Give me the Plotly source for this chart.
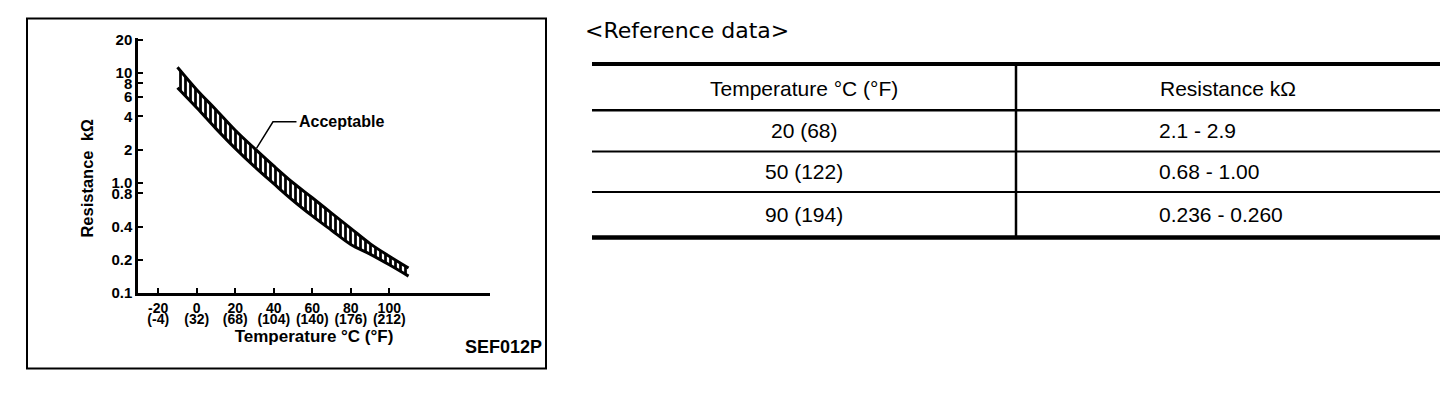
import math
import plotly.graph_objects as go

# ---------------- data ----------------
band_temp_c = [-10, 0, 10, 20, 30, 40, 50, 60, 70, 80, 90, 100, 110]
band_upper_kohm = [11.2, 7.0, 4.6, 3.0, 2.05, 1.42, 1.0, 0.73, 0.53, 0.385, 0.28, 0.215, 0.168]
band_lower_kohm = [7.3, 4.8, 3.1, 2.05, 1.4, 0.98, 0.69, 0.5, 0.37, 0.275, 0.225, 0.18, 0.142]

x_tick_c = [-20, 0, 20, 40, 60, 80, 100]
x_tick_c_labels = ["-20", "0", "20", "40", "60", "80", "100"]
x_tick_f_labels = ["(-4)", "(32)", "(68)", "(104)", "(140)", "(176)", "(212)"]

y_tick_vals = [0.1, 0.2, 0.4, 0.8, 1.0, 2, 4, 6, 8, 10, 20]
y_tick_labels = ["0.1", "0.2", "0.4", "0.8", "1.0", "2", "4", "6", "8", "10", "20"]

acceptable_label = "Acceptable"
acceptable_leader_x = [31.1, 39.6, 51.8]
acceptable_leader_y = [2.06, 3.58, 3.58]

table_title = "<Reference data>"
table_header = ["Temperature °C (°F)", "Resistance kΩ"]
table_temps = ["20 (68)", "50 (122)", "90 (194)"]
table_resist = ["2.1 - 2.9", "0.68 - 1.00", "0.236 - 0.260"]

figure_code = "SEF012P"

# ---------------- layout helpers ----------------
W, H = 1456, 418


def px(x):
    return x / W


def py(y):
    return 1 - y / H


CHART_FONT = "Liberation Sans, Arial, sans-serif"

fig = go.Figure()

# band: upper edge then lower edge filled with vertical hatching
fig.add_trace(go.Scatter(
    x=band_temp_c, y=band_upper_kohm, mode="lines",
    line=dict(color="black", width=3, shape="spline"),
    showlegend=False, hoverinfo="skip"))
fig.add_trace(go.Scatter(
    x=band_temp_c, y=band_lower_kohm, mode="lines",
    line=dict(color="black", width=3, shape="spline"),
    fill="tonexty", fillcolor="white",
    fillpattern=dict(shape="|", size=5, solidity=0.55,
                     fgcolor="black", bgcolor="white", fgopacity=1),
    showlegend=False, hoverinfo="skip"))

# leader line for "Acceptable"
fig.add_trace(go.Scatter(
    x=acceptable_leader_x, y=acceptable_leader_y, mode="lines",
    line=dict(color="black", width=1.5),
    showlegend=False, hoverinfo="skip"))

# invisible trace on the Fahrenheit axis so it is drawn
fig.add_trace(go.Scatter(
    x=x_tick_c, y=[None] * len(x_tick_c), xaxis="x2", mode="lines",
    showlegend=False, hoverinfo="skip"))

fig.add_annotation(
    x=acceptable_leader_x[-1] + 0.5, y=math.log10(acceptable_leader_y[-1]),
    xref="x", yref="y", yanchor="middle", xanchor="left", showarrow=False,
    text=acceptable_label, font=dict(family=CHART_FONT, size=16, color="black", weight="bold"))

x_range = [-30.5, 152.3]
x_dom = [px(138), px(490)]
y_dom = [py(296.5), py(32)]

fig.update_layout(
    width=W, height=H, autosize=False,
    margin=dict(l=0, r=0, t=0, b=0),
    paper_bgcolor="white", plot_bgcolor="white",
    showlegend=False,
    xaxis=dict(
        domain=x_dom, range=x_range, showgrid=False, zeroline=False,
        showline=True, linecolor="black", linewidth=2.5,
        ticks="inside", ticklen=5, tickwidth=2, tickcolor="black",
        tickmode="array", tickvals=x_tick_c, ticktext=x_tick_c_labels,
        tickfont=dict(family=CHART_FONT, size=14, color="black", weight="bold"),
        ticklabelstandoff=1,
    ),
    xaxis2=dict(
        overlaying="x", anchor="free", position=py(315),
        range=x_range, domain=x_dom, showgrid=False, zeroline=False,
        showline=False, ticks="",
        tickmode="array", tickvals=x_tick_c, ticktext=x_tick_f_labels,
        tickfont=dict(family=CHART_FONT, size=14, color="black", weight="bold"),
        ticklabelstandoff=-2,
        title=dict(text="Temperature °C (°F)", standoff=2,
                   font=dict(family=CHART_FONT, size=17, color="black", weight="bold")),
    ),
    yaxis=dict(
        domain=y_dom, type="log", range=[-1, 1.316], showgrid=False, zeroline=False,
        showline=True, linecolor="black", linewidth=2.5,
        ticks="inside", ticklen=5, tickwidth=2, tickcolor="black",
        tickmode="array", tickvals=y_tick_vals, ticktext=y_tick_labels,
        tickfont=dict(family=CHART_FONT, size=15, color="black", weight="bold"),
    ),
)

# y-axis title
fig.add_annotation(
    x=px(87), y=py(178), xref="paper", yref="paper", showarrow=False,
    text="Resistance  kΩ", textangle=-90, xanchor="center", yanchor="middle",
    font=dict(family=CHART_FONT, size=16.5, color="black", weight="bold"))

# figure code
fig.add_annotation(
    x=px(544), y=py(353), xref="paper", yref="paper", showarrow=False,
    text=figure_code, xanchor="right", yanchor="middle",
    font=dict(family=CHART_FONT, size=18, color="black", weight="bold"))

# chart frame
fig.add_shape(type="rect", xref="paper", yref="paper",
              x0=px(27), x1=px(546), y0=py(375), y1=py(12),
              line=dict(color="black", width=2))

# ---------------- reference table ----------------
TBL_FONT = "Liberation Sans, Arial, sans-serif"
tbl_left, tbl_mid, tbl_right = 592, 1016, 1440
row_lines = [59, 107, 150, 192, 239]
line_widths = [4, 2.5, 2, 2, 4.5]

fig.add_annotation(
    x=px(583), y=py(24), xref="paper", yref="paper", showarrow=False,
    text=table_title.replace("<", "&lt;").replace(">", "&gt;"),
    xanchor="left", yanchor="middle",
    font=dict(family="DejaVu Sans, sans-serif", size=22, color="black"))

for yy, lw in zip(row_lines, line_widths):
    fig.add_shape(type="line", xref="paper", yref="paper",
                  x0=px(tbl_left), x1=px(tbl_right), y0=py(yy), y1=py(yy),
                  line=dict(color="black", width=lw))
fig.add_shape(type="line", xref="paper", yref="paper",
              x0=px(tbl_mid), x1=px(tbl_mid), y0=py(row_lines[0]), y1=py(row_lines[-1]),
              line=dict(color="black", width=2.5))

col1_c = (tbl_left + tbl_mid) / 2
col2_c = (tbl_mid + tbl_right) / 2
hdr_y = (row_lines[0] + row_lines[1]) / 2 + 2
fig.add_annotation(x=px(col1_c), y=py(hdr_y), xref="paper", yref="paper", showarrow=False,
                   text=table_header[0], xanchor="center", yanchor="middle",
                   font=dict(family=TBL_FONT, size=21, color="black"))
fig.add_annotation(x=px(col2_c), y=py(hdr_y), xref="paper", yref="paper", showarrow=False,
                   text=table_header[1], xanchor="center", yanchor="middle",
                   font=dict(family=TBL_FONT, size=21, color="black"))

for i, (t, r) in enumerate(zip(table_temps, table_resist)):
    yc = (row_lines[i + 1] + row_lines[i + 2]) / 2
    fig.add_annotation(x=px(col1_c), y=py(yc), xref="paper", yref="paper", showarrow=False,
                       text=t, xanchor="center", yanchor="middle",
                       font=dict(family=TBL_FONT, size=21, color="black"))
    fig.add_annotation(x=px(1157), y=py(yc), xref="paper", yref="paper", showarrow=False,
                       text=r, xanchor="left", yanchor="middle",
                       font=dict(family=TBL_FONT, size=21, color="black"))

fig.write_html(
    "out.html",
    config={"displayModeBar": False},
    post_script=(
        "document.documentElement.style.margin='0';"
        "document.documentElement.style.overflow='hidden';"
        "document.body.style.margin='0';"
        "document.body.style.overflow='hidden';"
    ),
)
